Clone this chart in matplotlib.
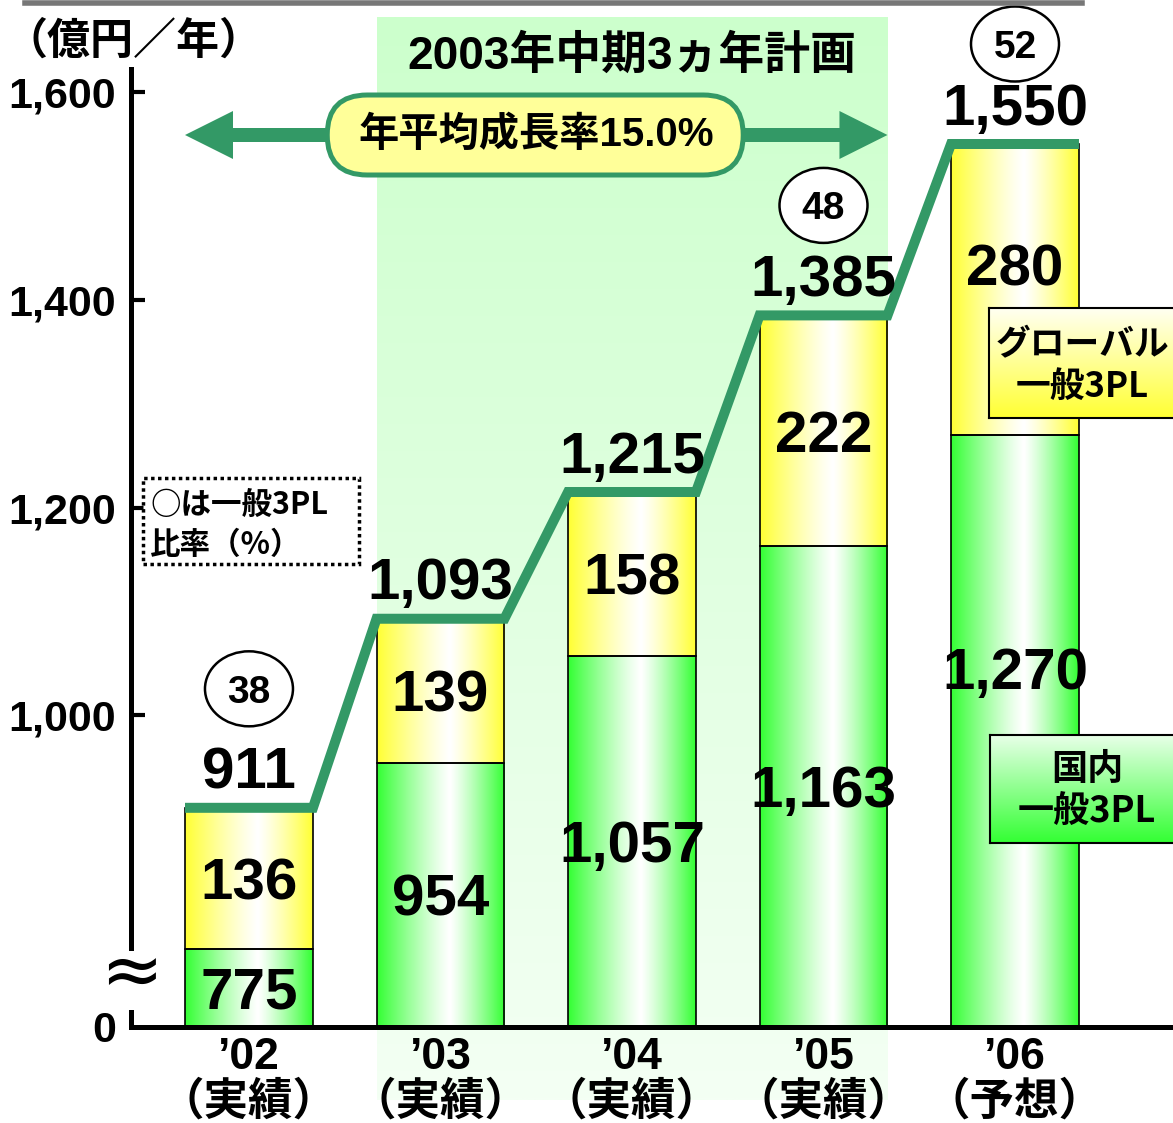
import numpy as np
import matplotlib
matplotlib.use("Agg")
import matplotlib.pyplot as plt
from matplotlib import font_manager, transforms
from matplotlib.patches import Ellipse, FancyArrow, FancyBboxPatch, Rectangle
from matplotlib.lines import Line2D
from matplotlib.colors import to_rgb

# ---------------- data ----------------
years = ["’02", "’03", "’04", "’05", "’06"]
status = ["実績", "実績", "実績", "実績", "予想"]
domestic = [775, 954, 1057, 1163, 1270]      # 国内 一般3PL
global_3pl = [136, 139, 158, 222, 280]       # グローバル 一般3PL
ratio_3pl = [38, None, None, 48, 52]         # 一般3PL比率 (%)
ytick_values = [700, 1000, 1200, 1400, 1600]  # 700 is shown as the broken-axis "0"
ytick_labels = ["0", "1,000", "1,200", "1,400", "1,600"]
plan_title = "2003年中期3ヵ年計画"
growth_label = "年平均成長率15.0%"
unit_label = "（億円／年）"
note_lines = ["○は一般3PL", "比率（%）"]
legend_global = "グローバル\n一般3PL"
legend_domestic = "国内\n一般3PL"
plan_first, plan_last = 1, 3

# layout-only tweaks (pixels)
circle_lift_px = [119, 0, 0, 110, 100]
dom_label_lift_px = [0, 0, 0, 0, 63]
glo_label_lift_px = [0, 0, 0, 0, 25]

# ---------------- fonts ----------------
names = {f.name for f in font_manager.fontManager.ttflist}
NUM = "Liberation Sans Narrow" if "Liberation Sans Narrow" in names else "Liberation Sans"
JP = "Noto Sans CJK JP"
MIX = [NUM, JP, "DejaVu Sans"]
plt.rcParams["font.family"] = MIX
plt.rcParams["font.weight"] = "bold"

LINE_GREEN = "#339966"
W, H = 1173, 1123
fig = plt.figure(figsize=(W / 100, H / 100), dpi=100)


def px_rect(x0, y0, x1, y1):
    return [x0 / W, 1 - y1 / H, (x1 - x0) / W, (y1 - y0) / H]


AX_L, AX_T, AX_R, AX_B = 131, 69, 1173, 1027
ax = fig.add_axes(px_rect(AX_L, AX_T, AX_R, AX_B))
ax.set_facecolor("none")
YMIN, YMAX = 700, 1622.2
XMIN, XMAX = -0.616, 4.825
ppu = (AX_B - AX_T) / (YMAX - YMIN)      # pixels per value unit
ppx = (AX_R - AX_L) / (XMAX - XMIN)      # pixels per category
PT = 72 / 100                             # points per pixel


def y_of_px(py):
    return YMIN + (AX_B - py) / ppu


x = np.arange(len(years))
dom = np.array(domestic)
glo = np.array(global_3pl)
tot = dom + glo
bw = 0.668


def hgrad(base, n=256):
    u = np.linspace(0, 1, n)
    c = 0.57
    t = np.where(u < c, (c - u) / c, (u - c) / (1 - c))
    t = t ** 1.2
    b = np.array(to_rgb(base))
    g = (1 - t[:, None]) * np.ones(3)[None, :] + t[:, None] * b[None, :]
    return g[None, :, :]


# plan band (behind everything)
bx0, bx1 = plan_first - bw / 2, plan_last + bw / 2
vg = np.linspace(0, 1, 256)[:, None, None]
c_top = np.array(to_rgb("#ccffcc"))[None, None, :]
c_bot = np.array(to_rgb("#f4fff4"))[None, None, :]
band = c_top * (1 - vg) + c_bot * vg
ax.imshow(band, extent=[bx0, bx1, y_of_px(1100), y_of_px(17)], origin="upper",
          aspect="auto", zorder=0.5, clip_on=False, interpolation="bilinear")

# stacked bars
gbars = ax.bar(x, dom, bw, color="none", edgecolor="black", linewidth=1.2, zorder=3)
ybars = ax.bar(x, glo, bw, bottom=dom, color="none", edgecolor="black", linewidth=1.2, zorder=3)
for bars, base in ((gbars, "#33ff33"), (ybars, "#ffff33")):
    for p in bars:
        x0, y0 = p.get_x(), p.get_y()
        y1 = y0 + p.get_height()
        im = ax.imshow(hgrad(base), extent=[x0, x0 + p.get_width(), max(y0, YMIN), y1],
                       aspect="auto", interpolation="bilinear", zorder=2)
        im.set_clip_path(p)

# total step line
lx, ly = [], []
for xi, t in zip(x, tot):
    lx += [xi - bw / 2, xi + bw / 2]
    ly += [t, t]
ax.plot(lx, ly, color=LINE_GREEN, lw=7.2, solid_joinstyle="miter",
        solid_capstyle="butt", zorder=5, clip_on=False)

BIG = 42
cap_half = 0.716 * BIG / 2
for i, (xi, d, g, t) in enumerate(zip(x, dom, glo, tot)):
    ax.annotate(f"{t:,}", (xi, t), xytext=(0, 14), textcoords="offset points",
                ha="center", va="baseline", fontsize=BIG, zorder=8, annotation_clip=False)
    ax.annotate(f"{g:,}", (xi, d + g / 2), xytext=(0, glo_label_lift_px[i] * PT - cap_half),
                textcoords="offset points", ha="center", va="baseline", fontsize=BIG, zorder=8)
    ax.annotate(f"{d:,}", (xi, (YMIN + d) / 2), xytext=(0, dom_label_lift_px[i] * PT - cap_half),
                textcoords="offset points", ha="center", va="baseline", fontsize=BIG, zorder=8)

# ratio circles
for i, (xi, t, r) in enumerate(zip(x, tot, ratio_3pl)):
    if r is None:
        continue
    lift = circle_lift_px[i]
    tr = transforms.ScaledTranslation(xi, t, ax.transData)
    ax.add_patch(Ellipse((0, lift), 88, 75, transform=tr, fc="white", ec="black",
                         lw=1.8, zorder=7, clip_on=False))
    ax.annotate(str(r), (xi, t), xytext=(0, lift * PT - 0.716 * 28 / 2),
                textcoords="offset points", ha="center", va="baseline", fontsize=28,
                zorder=8, annotation_clip=False)

# growth arrow + pill
a_l, a_r = x[0] - bw / 2, plan_last + bw / 2
y_arr = y_of_px(135)
xc = (a_l + a_r) / 2
for end in (a_l, a_r):
    ax.add_patch(FancyArrow(xc, y_arr, end - xc, 0, width=14 / ppu, head_width=48 / ppu,
                            head_length=48 / ppx, length_includes_head=True,
                            fc=LINE_GREEN, ec="none", clip_on=False, zorder=6))
trp = transforms.ScaledTranslation(xc, y_arr, ax.transData)
ax.add_patch(FancyBboxPatch((-209, -40), 416, 80, boxstyle="round,pad=0,rounding_size=40",
                            transform=trp, fc="#ffff99", ec=LINE_GREEN, lw=3.6,
                            zorder=7, clip_on=False))
ax.text(xc, y_arr, growth_label, ha="center", va="center", fontsize=29, zorder=8)

# plan title
ax.text((bx0 + bx1) / 2, y_of_px(57), plan_title, ha="center", va="center",
        fontsize=33, zorder=8, clip_on=False)

# axes styling
ax.set_xlim(XMIN, XMAX)
ax.set_ylim(YMIN, YMAX)
for s in ("top", "right"):
    ax.spines[s].set_visible(False)
ax.spines["left"].set_linewidth(3.6)
ax.spines["bottom"].set_linewidth(3.6)
ax.spines["left"].set_bounds(y_of_px(948), YMAX)
ax.plot([0, 0], [0, 15 / (AX_B - AX_T)], transform=ax.transAxes, color="black",
        lw=3.6, solid_capstyle="projecting", clip_on=False, zorder=4)
ax.text(0, y_of_px(975), "≈", transform=transforms.blended_transform_factory(ax.transAxes, ax.transData),
        ha="center", va="center", fontsize=54, family="DejaVu Sans", fontweight="normal")

ax.set_yticks(ytick_values, ytick_labels)
ax.tick_params(axis="y", direction="in", length=10, width=3, pad=11, labelsize=31)
ax.yaxis.get_major_ticks()[0].tick1line.set_visible(False)
ax.set_xticks(x, [f"{yv}\n（{st}）" for yv, st in zip(years, status)])
ax.tick_params(axis="x", length=0, pad=7, labelsize=32)
for lbl in ax.get_xticklabels():
    lbl.set_linespacing(1.08)

# unit label
fig.text(4 / W, 1 - 42 / H, unit_label, ha="left", va="center", fontsize=31)

# dotted note box
fig.add_artist(Rectangle((143 / W, 1 - 564 / H), 216 / W, 86 / H, transform=fig.transFigure,
                         fc="white", ec="black", lw=2.5, ls=(0, (1, 1))))
fig.text(150 / W, 1 - 505 / H, note_lines[0], ha="left", va="center", fontsize=22, family=[JP])
fig.text(150 / W, 1 - 545 / H, note_lines[1], ha="left", va="center", fontsize=22, family=[JP])


# legend boxes
def legend_box(rect_px, top_col, bot_col, text, cx, cy, fs):
    lax = fig.add_axes(px_rect(*rect_px))
    v = np.linspace(0, 1, 128)[:, None, None]
    g = np.array(to_rgb(top_col))[None, None, :] * (1 - v) + np.array(to_rgb(bot_col))[None, None, :] * v
    lax.imshow(g, extent=[0, 1, 0, 1], aspect="auto", origin="upper", interpolation="bilinear")
    lax.set_xlim(0, 1)
    lax.set_ylim(0, 1)
    lax.set_xticks([])
    lax.set_yticks([])
    for sp in lax.spines.values():
        sp.set_linewidth(1.5)
    lax.text(cx, cy, text, ha="center", va="center", fontsize=fs, family=[JP], linespacing=1.22)


legend_box((989, 308, 1190, 418), "#fffff2", "#ffff33", legend_global, 0.463, 0.477, 25)
legend_box((990, 735, 1190, 843), "#e8ffe8", "#33ff33", legend_domestic, 0.485, 0.48, 26)

# top gray rule
fig.add_artist(Line2D([25 / W, 1082 / W], [1 - 3 / H, 1 - 3 / H], color="#777777", lw=4))

fig.savefig("out.png", dpi=100)
